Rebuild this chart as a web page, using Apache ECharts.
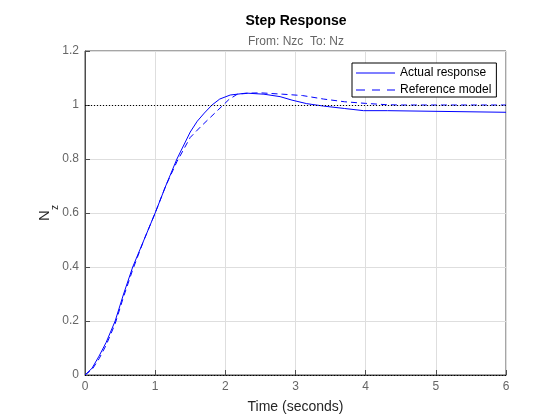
<!DOCTYPE html>
<html lang="en">
<head>
    <meta charset="UTF-8">
    <title>Step Response</title>
    <script src="https://cdn.jsdelivr.net/npm/echarts@6/dist/echarts.min.js"></script>
</head>
<body style="margin:0">
    <div id="chart" style="width:560px;height:420px;"></div>

    <script>
        // time (s) and response values
        var actualT = [0, 0.1, 0.2, 0.3, 0.43, 0.55, 0.68, 0.84, 1.0, 1.15, 1.31, 1.5, 1.6, 1.7, 1.81, 1.92, 2.07, 2.3, 2.55, 2.78, 2.95, 3.16, 3.4, 3.7, 3.97, 4.31, 4.32, 6];
        var actualY = [0, 0.025, 0.07, 0.12, 0.2, 0.3, 0.4, 0.5, 0.6, 0.7, 0.8, 0.9, 0.94, 0.97, 1.0, 1.022, 1.037, 1.044, 1.04, 1.031, 1.018, 1.005, 0.996, 0.987, 0.979, 0.979, 0.973, 0.973];

        var refT = [0, 0.1, 0.2, 0.3, 0.43, 0.55, 0.68, 0.84, 1.0, 1.15, 1.31, 1.5, 1.65, 1.81, 1.95, 2.05, 2.17, 2.35, 2.5, 2.82, 3.1, 3.4, 3.7, 4.0, 4.3, 4.5, 6];
        var refY = [0, 0.02, 0.06, 0.11, 0.19, 0.29, 0.39, 0.5, 0.6, 0.7, 0.79, 0.88, 0.92, 0.96, 0.995, 1.02, 1.04, 1.044, 1.045, 1.04, 1.035, 1.022, 1.012, 1.006, 1.001, 1.0, 1.0];

        var xTicks = [0, 1, 2, 3, 4, 5, 6];
        var yTicks = [0, 0.2, 0.4, 0.6, 0.8, 1, 1.2];

        function pairs(t, y) {
            var out = [];
            for (var i = 0; i < t.length; i++) out.push([t[i], y[i]]);
            return out;
        }

        var font = 'Liberation Sans';
        var chart = echarts.init(document.getElementById('chart'));
        var option = {
            animation: false,
            backgroundColor: '#fff',
            title: {
                text: 'Step Response',
                subtext: 'From: Nzc  To: Nz',
                left: 296,
                top: 14,
                padding: 0,
                textAlign: 'center',
                itemGap: 8,
                textStyle: { fontFamily: font, fontSize: 14, fontWeight: 'bold', color: '#000' },
                subtextStyle: { fontFamily: font, fontSize: 12, color: '#666' }
            },
            legend: {
                orient: 'vertical',
                left: 352,
                top: 63,
                padding: [3, 5, 0, 4],
                itemWidth: 39,
                itemHeight: 1,
                itemGap: 3,
                borderColor: '#000',
                borderWidth: 1,
                borderRadius: 0,
                backgroundColor: '#fff',
                textStyle: { fontFamily: font, fontSize: 12, lineHeight: 14, color: '#000' },
                data: [
                    { name: 'Actual response', icon: 'rect' },
                    { name: 'Reference model', icon: 'path://M0,0h9v1h-9z M16,0h8v1h-8z M31,0h8v1h-8z' }
                ]
            },
            grid: {
                left: 85,
                right: 54,
                top: 51,
                bottom: 45,
                show: true,
                borderColor: '#4d4d4d',
                borderWidth: 1
            },
            xAxis: {
                type: 'value',
                min: xTicks[0],
                max: xTicks[xTicks.length - 1],
                interval: 1,
                name: 'Time (seconds)',
                nameLocation: 'middle',
                nameGap: 25,
                nameTextStyle: { fontFamily: font, fontSize: 14, color: '#262626' },
                axisLine: { show: true, lineStyle: { color: '#4d4d4d' } },
                axisTick: { show: true, inside: true, length: 5, lineStyle: { color: '#4d4d4d' } },
                axisLabel: { fontFamily: font, fontSize: 12, color: '#666', margin: 6 },
                splitLine: { show: true, lineStyle: { color: '#dedede' } }
            },
            yAxis: {
                type: 'value',
                min: yTicks[0],
                max: yTicks[yTicks.length - 1],
                interval: 0.2,
                name: '{n|N}{s|z}',
                nameLocation: 'middle',
                nameRotate: 90,
                nameGap: 25,
                nameMoveOverlap: false,
                nameTextStyle: {
                    rich: {
                        n: { fontFamily: font, fontSize: 15, color: '#262626', verticalAlign: 'bottom', padding: [0, 0, 8, 0] },
                        s: { fontFamily: font, fontSize: 10, color: '#262626', verticalAlign: 'bottom' }
                    }
                },
                axisLine: { show: true, lineStyle: { color: '#4d4d4d' } },
                axisTick: { show: true, inside: true, length: 5, lineStyle: { color: '#4d4d4d' } },
                axisLabel: { fontFamily: font, fontSize: 12, color: '#666', margin: 6 },
                splitLine: { show: true, lineStyle: { color: '#dedede' } }
            },
            series: [
                {
                    name: 'Actual response',
                    type: 'line',
                    symbol: 'none',
                    z: 3,
                    lineStyle: { color: '#0000ff', width: 1, type: 'solid' },
                    itemStyle: { color: '#0000ff' },
                    data: pairs(actualT, actualY)
                },
                {
                    name: 'Reference model',
                    type: 'line',
                    symbol: 'none',
                    z: 3,
                    lineStyle: { color: '#0000ff', width: 1, type: [6, 4] },
                    itemStyle: { color: '#0000ff' },
                    data: pairs(refT, refY),
                    markLine: {
                        silent: true,
                        symbol: 'none',
                        label: { show: false },
                        lineStyle: { color: '#000', width: 1, type: [1, 2] },
                        data: [{ yAxis: 1 }, { yAxis: 0 }]
                    }
                }
            ]
        };
        chart.setOption(option);
    </script>
</body>
</html>
